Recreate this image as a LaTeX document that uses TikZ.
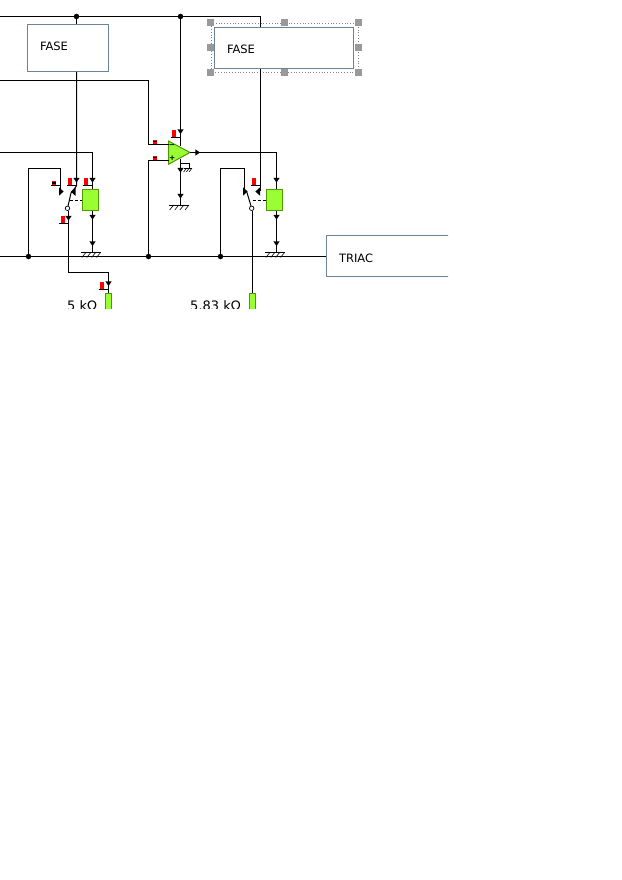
\documentclass[tikz,border=0pt]{standalone}
\usepackage{fontspec}
\setmainfont{DejaVu Sans}
\usepackage{xcolor}
\usetikzlibrary{positioning}
\usetikzlibrary{calc}
\definecolor{boxline}{HTML}{6B8299}
\definecolor{relayfill}{HTML}{99FF33}
\definecolor{relayline}{HTML}{4C9900}
\tikzset{
	wire/.style={line width=1pt,black},
	labelbox/.style={draw=boxline,line width=1pt,fill=white,align=left,font=\fontsize{11.5}{13}\selectfont,text height=10pt,text depth=0pt,inner sep=0pt},
	relay/.style={draw=relayline,line width=1pt,fill=relayfill,inner sep=0pt},
	junction/.style={circle,fill=black,inner sep=0pt,minimum size=5.5pt},
	pivot/.style={circle,draw=black,fill=white,line width=0.7pt,inner sep=0pt,minimum size=4.5pt},
	handle/.style={fill=black!40,inner sep=0pt,minimum size=7pt},
	value/.style={font=\fontsize{13}{15}\selectfont,inner sep=0pt,anchor=base west},
	sign/.style={font=\bfseries\fontsize{7.5}{8}\selectfont,inner sep=0pt},
}
\begin{document}
\begin{tikzpicture}[x=1pt,y=-1pt]
	\newcommand{\tip}[3]{\fill[black,shift={(#1,#2)},rotate=#3] (-2.2,-3.2) -- (2.6,0) -- (-2.2,3.2) -- cycle;}
	\newcommand{\sidetip}[3]{\fill[black,shift={(#1,#2)},rotate=#3] (-2,-4.2) -- (2.6,0) -- (-2,4.2) -- cycle;}
	\newcommand{\flag}[2]{\fill[red] (#1,#2) rectangle ++(3.6,7); \draw[line width=0.8pt] (#1-1.6,#2+7.5) -- ++(9.4,0);}
	\newcommand{\inmark}[2]{\fill[red] (#1,#2) rectangle ++(4,4.4); \fill[black] (#1,#2+1.6) rectangle ++(4,1.2); \draw[line width=0.8pt] (#1-0.5,#2+4.5) -- ++(9,0);}
	\newcommand{\gnd}[3]{\draw[line width=0.8pt] (#1,#2) -- ++(#3,0);
		\foreach \k in {1,...,4} {\draw[line width=0.6pt] (#1+\k*#3/4,#2) -- ++(-4,5);}}
	\useasboundingbox (0,0) rectangle (621,880);
	\clip (0,0) rectangle (448,308);
	
	% boxes
	\node[labelbox,minimum width=81pt,minimum height=47pt,text width=56pt,text depth=4pt] (fasea) at (68,48) {FASE};
	\node[labelbox,minimum width=139pt,minimum height=41.5pt,text width=114pt,text height=12pt] (faseb) at (284,48) {FASE};
	\node[labelbox,anchor=west,minimum width=160pt,minimum height=41pt,text width=135pt,text height=12pt] (triac) at (326,256) {TRIAC};
	
	% selection frame
	\draw[gray,line width=0.8pt,dotted] (211,23.5) rectangle (358,72.5);
	\node[handle] (h1) at (210.5,22.5) {};
	\node[handle] (h2) at (284.5,22.5) {};
	\node[handle] (h3) at (358,22.5) {};
	\node[handle] (h4) at (210.5,47.5) {};
	\node[handle] (h5) at (358,47.5) {};
	\node[handle] (h6) at (210.5,72.5) {};
	\node[handle] (h7) at (284.5,72.5) {};
	\node[handle] (h8) at (358,72.5) {};
	
	% relays
	\node[relay,minimum width=16.5pt,minimum height=21pt] (relaya) at (90.5,200) {};
	\node[relay,minimum width=16.5pt,minimum height=21pt] (relayb) at (274.7,200) {};
	\node[relay,minimum width=6.5pt,minimum height=40pt,anchor=north] (resa) at (108.5,292.7) {};
	\node[relay,minimum width=6.5pt,minimum height=40pt,anchor=north] (resb) at (252.5,292.5) {};
	
	% junctions and pivots
	\node[junction] (topa) at (76.5,16.5) {};
	\node[junction] (topb) at (180.5,16.5) {};
	\node[junction] (busa) at (28.5,256.5) {};
	\node[junction] (busb) at (148.5,256.5) {};
	\node[junction] (busc) at (220.5,256.5) {};
	\node[pivot] (pivota) at (67.5,208.3) {};
	\node[pivot] (pivotb) at (251.7,208.3) {};
	
	% free ends
	\coordinate (lefttop) at (0,16.5);
	\coordinate (leftmid) at (0,80.5);
	\coordinate (leftout) at (0,152.5);
	\coordinate (leftbus) at (0,256.5);
	\coordinate (conta) at (60.5,191);
	\coordinate (contb) at (244.5,191);
	\coordinate (swa) at (76.5,186);
	\coordinate (swb) at (260.5,191);
	\coordinate (blda) at (71,193);
	\coordinate (bldb) at (246.8,192);
	\coordinate (gnda) at (92.5,252.5);
	\coordinate (gndb) at (276.5,252.5);
	\coordinate (gndc) at (180.5,205);
	\coordinate (gndd) at (189.5,168);
	\coordinate (pina) at (68.5,210.5);
	\coordinate (pinb) at (252.5,210.5);
	
	% opamp
	\coordinate (ampminus) at (168.5,144.5);
	\coordinate (ampplus) at (168.5,160.5);
	\coordinate (amptop) at (180.5,146);
	\coordinate (ampbot) at (180.5,158.5);
	\coordinate (ampout) at (190,152.5);
	\draw[relayline,fill=relayfill,line width=1pt] (168.5,141) -- (190,152.5) -- (168.5,164.3) -- cycle;
	\node[sign] (minus) at (172,146) {−};
	\node[sign] (plus) at (172.3,158.5) {+};
	
	% wires
	\draw[wire] (lefttop) -- (topa) -- (topb) -| (faseb.north -| swb);
	\draw[wire] (topa) -- (fasea.north -| topa);
	\draw[wire] (fasea.south -| topa) -- (swa) -- (blda);
	\draw[wire] (faseb.south -| swb) -- (swb);
	\draw[wire] (topb) -- (amptop);
	\draw[wire] (leftmid) -| (148.5,144.5) -- (ampminus);
	\draw[wire] (busb) |- (ampplus);
	\draw[wire] (leftout) -| (relaya.north -| gnda);
	\draw[wire] (ampout) -| (relayb.north -| gndb);
	\draw[wire] (relaya.south -| gnda) -- (gnda);
	\draw[wire] (relayb.south -| gndb) -- (gndb);
	\draw[wire] (ampbot) -- (gndc);
	\draw[wire] (180.5,163.5) -| (gndd);
	\draw[wire] (leftbus) -- (busa) -- (busb) -- (busc) -- (triac.west |- busc);
	\draw[wire] (busa) |- (60.5,168.5) -- (conta);
	\draw[wire] (busc) |- (244.5,168.5) -- (contb);
	\draw[wire] (pivota) -- (blda);
	\draw[wire] (pivotb) -- (bldb);
	\draw[wire] (pina) |- (108.5,272.5) -- (resa.north);
	\draw[wire] (pinb) -- (resb.north);
	\draw[wire,dash pattern=on 3pt off 2pt] (69.5,200.5) -- (relaya.west |- 0,200.5);
	\draw[wire,dash pattern=on 3pt off 2pt] (252.5,200.5) -- (relayb.west |- 0,200.5);
	
	% arrow heads
	\tip{76.5}{180}{-90}
	\tip{92.5}{180}{-90}
	\tip{92.5}{217}{-90}
	\tip{92.5}{243.5}{-90}
	\tip{68.5}{218}{-90}
	\tip{108.5}{283.5}{-90}
	\sidetip{73.5}{191.7}{180}
	\sidetip{61}{191.5}{0}
	\sidetip{258}{191.5}{180}
	\sidetip{245}{191.5}{0}
	\tip{276.5}{180}{-90}
	\tip{276.5}{217}{-90}
	\tip{276.5}{243.5}{-90}
	\tip{180.5}{131.5}{-90}
	\tip{180.5}{170}{-90}
	\tip{180.5}{196}{-90}
	\tip{197.5}{152.5}{0}
	
	% flags
	\flag{68.3}{178}
	\flag{84.2}{178}
	\flag{61}{215.5}
	\flag{100.3}{281.5}
	\flag{252.3}{178}
	\flag{172.2}{129.7}
	\inmark{51.7}{180.8}
	\inmark{153.2}{139.6}
	\inmark{153.2}{155.6}
	
	% grounds
	\gnd{81}{252.5}{19.5}
	\gnd{265}{252.5}{19.5}
	\gnd{168.5}{205}{20.5}
	\draw[line width=0.8pt] (184,168) -- (192,168);
	\foreach \k in {1,2,3} {\draw[line width=0.6pt] (184+\k*8/3,168) -- ++(-3,4);}
	
	% values
	\node[value] (vala) at (67,310.5) {5 kΩ};
	\node[value] (valb) at (190,310.5) {5,83 kΩ};
\end{tikzpicture}
\end{document}
